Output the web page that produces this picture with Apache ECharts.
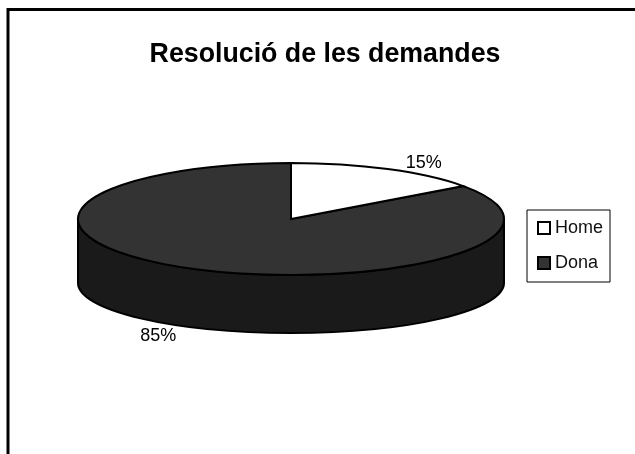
<!DOCTYPE html>
<html>
<head>
<meta charset="utf-8">
<style>
  html, body { margin: 0; padding: 0; background: #fff; }
  #chart { width: 635px; height: 454px; }
</style>
<script src="https://cdn.jsdelivr.net/npm/echarts@6/dist/echarts.min.js"></script>
</head>
<body>
<div id="chart"></div>
<script>
const categories = ['Home', 'Dona']
const shares = [15, 85]
const sliceColors = ['#ffffff', '#333333']
const wallColors = ['#ffffff', '#1a1a1a']

const FONT = '"Liberation Sans", Arial, sans-serif'
const CX = 291, CY = 219, RX = 213, RY = 56, DEPTH = 64, BOTTOM_RY = 50
// label position relative to the middle of each slice's outer edge
const labelOffsets = [[36, -6], [-36, 8]]

const total = shares.reduce((a, b) => a + b, 0)

function rim(deg, down, ry) {
  const a = deg * Math.PI / 180
  return [CX + RX * Math.sin(a), CY - (ry || RY) * Math.cos(a) + (down || 0)]
}

function sliceSeries(index) {
  const before = shares.slice(0, index).reduce((a, b) => a + b, 0)
  return {
    type: 'custom',
    name: categories[index],
    coordinateSystem: 'none',
    silent: true,
    z: index === 0 ? 3 : 2,
    itemStyle: { color: sliceColors[index], borderColor: '#000', borderWidth: 2 },
    data: [[shares[index]]],
    renderItem(params, api) {
      const start = before / total * 360
      const sweep = api.value(0) / total * 360
      const end = start + sweep
      const mid = start + sweep / 2
      const p0 = rim(start), p1 = rim(end)
      const big = sweep > 180 ? 1 : 0
      const children = []

      // the visible wall is the front half of the rim, only the big slice reaches it
      if (start < 270 && end > 90) {
        const a = Math.max(start, 90), b = Math.min(end, 270)
        const t0 = rim(a), t1 = rim(b)
        const b0 = rim(a, DEPTH, BOTTOM_RY), b1 = rim(b, DEPTH, BOTTOM_RY)
        children.push({
          type: 'path',
          shape: {
            pathData: `M${t0} L${b0} A${RX} ${BOTTOM_RY} 0 0 1 ${b1} L${t1} A${RX} ${RY} 0 0 0 ${t0} Z`
          },
          style: { fill: wallColors[index], stroke: '#000', lineWidth: 2 }
        })
      }
      children.push({
        type: 'path',
        shape: {
          pathData: `M${CX} ${CY} L${p0} A${RX} ${RY} 0 ${big} 1 ${p1} Z`
        },
        style: { fill: sliceColors[index], stroke: '#000', lineWidth: 2 }
      })

      const front = mid > 90 && mid < 270
      const anchor = front ? rim(mid, DEPTH, BOTTOM_RY) : rim(mid)
      children.push({
        type: 'text',
        x: anchor[0] + labelOffsets[index][0],
        y: anchor[1] + labelOffsets[index][1],
        z2: 10,
        style: {
          text: api.value(0) + '%',
          font: '18px ' + FONT,
          fill: '#000',
          align: 'center',
          verticalAlign: 'middle'
        }
      })
      return { type: 'group', children }
    }
  }
}

const chart = echarts.init(document.getElementById('chart'))
chart.setOption({
  animation: false,
  backgroundColor: '#fff',
  title: {
    text: 'Resolució de les demandes',
    left: 320,
    top: 36,
    textAlign: 'center',
    textStyle: { fontFamily: FONT, fontSize: 26.75, fontWeight: 'bold', color: '#000' }
  },
  legend: {
    data: categories,
    orient: 'vertical',
    left: 527,
    top: 210,
    padding: [9, 7, 10, 10],
    itemWidth: 12,
    itemHeight: 12,
    itemGap: 17,
    icon: 'rect',
    selectedMode: false,
    borderColor: '#000',
    borderWidth: 1,
    textStyle: { fontFamily: FONT, fontSize: 18, color: '#111' }
  },
  graphic: [{
    type: 'rect',
    silent: true,
    shape: { x: 8, y: 9.5, width: 640, height: 460 },
    style: { fill: 'none', stroke: '#000', lineWidth: 3 }
  }],
  series: categories.map((c, i) => sliceSeries(i))
})
window.addEventListener('resize', chart.resize)
</script>
</body>
</html>
